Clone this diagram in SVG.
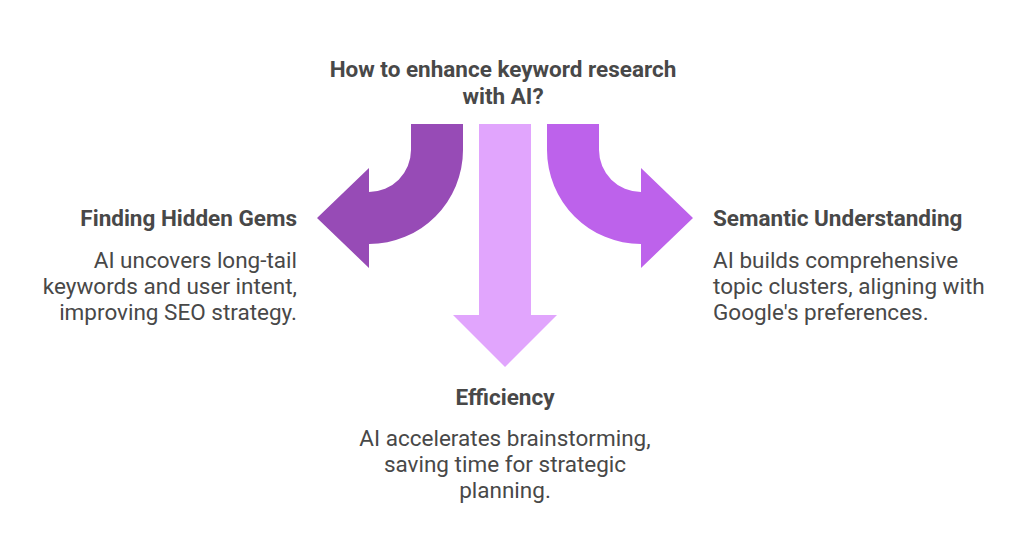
<svg xmlns="http://www.w3.org/2000/svg" width="1024" height="560" viewBox="0 0 1024 560">
<style>
.t{font-family:Roboto,"Liberation Sans",sans-serif;font-weight:700;font-size:22.5px;fill:#484848}
.d{font-family:Roboto,"Liberation Sans",sans-serif;font-weight:400;font-size:22.5px;fill:#484848}
</style>
<rect width="1024" height="560" fill="#fff"/>
<g id="title"><text class="t" text-anchor="middle" x="503" y="77">How to enhance keyword research</text><text class="t" text-anchor="middle" x="503" y="104">with AI?</text></g>
<g id="connectors">
<path d="M411 124H463V150A94 94 0 0 1 369 244V268L317 218L369 168V192A42 42 0 0 0 411 150Z" fill="#974BB6"/>
<path d="M479 124H531V315H557L505 367L453 315H479Z" fill="#E1A5FD"/>
<path d="M599 124H547V150A94 94 0 0 0 641 244V268L693 218L641 168V192A42 42 0 0 1 599 150Z" fill="#BD62EB"/>
</g>
<g id="hidden-gems"><text class="t" text-anchor="end" x="297" y="226">Finding Hidden Gems</text>
<text class="d" text-anchor="end" x="297" y="268">AI uncovers long-tail</text><text class="d" text-anchor="end" x="297" y="294">keywords and user intent,</text><text class="d" text-anchor="end" x="297" y="320">improving SEO strategy.</text></g>
<g id="semantic"><text class="t" x="713" y="226">Semantic Understanding</text>
<text class="d" x="713" y="268">AI builds comprehensive</text><text class="d" x="713" y="294">topic clusters, aligning with</text><text class="d" x="713" y="320">Google's preferences.</text></g>
<g id="efficiency"><text class="t" text-anchor="middle" x="505" y="405">Efficiency</text>
<text class="d" text-anchor="middle" x="505" y="446">AI accelerates brainstorming,</text><text class="d" text-anchor="middle" x="505" y="472">saving time for strategic</text><text class="d" text-anchor="middle" x="505" y="498">planning.</text></g>
</svg>
